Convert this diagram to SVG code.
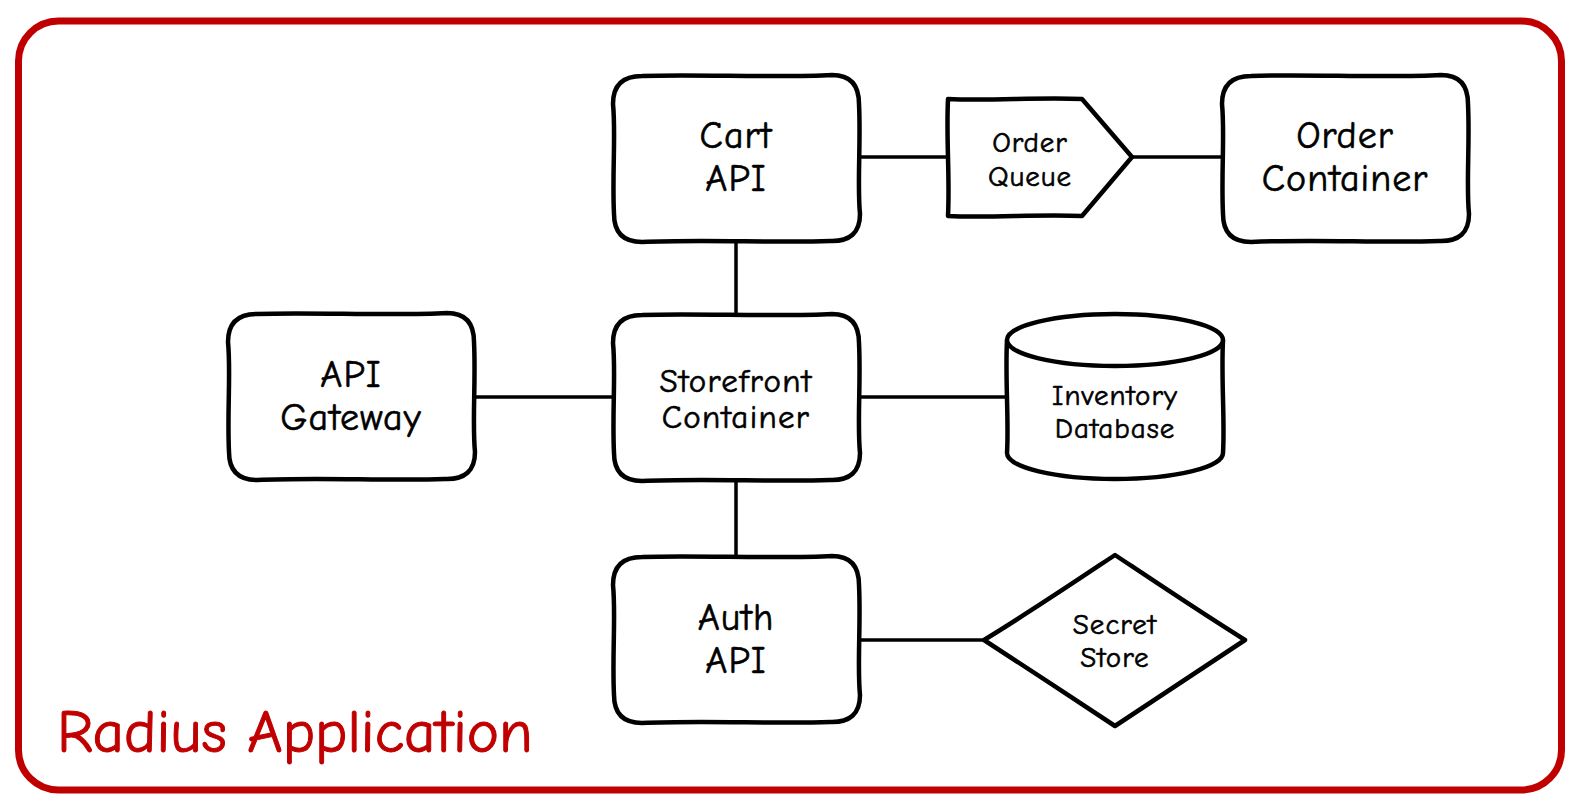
<svg xmlns="http://www.w3.org/2000/svg" width="1582" height="808" viewBox="0 0 1582 808">
<style>
.shape{fill:#fff;stroke:#000;stroke-width:4.5;stroke-linejoin:round}
.conn{stroke:#000;stroke-width:3.5;fill:none}
text{font-family:"Comic Sans MS","Comic Neue","Liberation Sans",sans-serif;fill:#000;stroke:#000;stroke-width:0.6;text-anchor:middle}
.big{font-size:38px;letter-spacing:1px}
.mid{font-size:33px;letter-spacing:1.3px}
.sm{font-size:29px;letter-spacing:1px}
.title{font-size:61px;fill:#c00000;stroke:#c00000;stroke-width:1;text-anchor:start}
</style>
<defs>
<path id="box" d="M30,2 C80,0 170,4 220,1 Q247,1 247,30 C249,70 245,110 248,140 Q248,168 218,167 C160,169 90,165 30,168 Q2,168 2,140 C0,100 4,60 1,30 Q1,2 30,2 Z"/>
</defs>
<rect x="18.5" y="21" width="1543" height="769" rx="40" fill="#fff" stroke="#c00000" stroke-width="7"/>
<g id="connectors">
<line class="conn" x1="861" y1="157" x2="948" y2="157"/>
<line class="conn" x1="1132" y1="157" x2="1221" y2="157"/>
<line class="conn" x1="736" y1="243" x2="736" y2="314"/>
<line class="conn" x1="475" y1="397" x2="612" y2="397"/>
<line class="conn" x1="861" y1="397" x2="1007" y2="397"/>
<line class="conn" x1="736" y1="482" x2="736" y2="555"/>
<line class="conn" x1="861" y1="640" x2="984" y2="640"/>
</g>
<g id="cart-api">
<use href="#box" class="shape" x="612" y="74"/>
<text class="big" x="736" y="148">Cart</text>
<text class="big" x="736" y="191">API</text>
</g>
<g id="order-queue">
<path class="shape" d="M948,99 C990,101 1040,97 1082,99 L1132,157 L1082,216 C1040,214 990,218 948,216 C950,175 946,140 948,99 Z"/>
<text class="sm" x="1030" y="152">Order</text>
<text class="sm" x="1030" y="186">Queue</text>
</g>
<g id="order-container">
<use href="#box" class="shape" x="1221" y="74"/>
<text class="big" x="1345" y="148">Order</text>
<text class="big" x="1345" y="191">Container</text>
</g>
<g id="api-gateway">
<use href="#box" class="shape" x="227" y="312"/>
<text class="big" x="351" y="387">API</text>
<text class="big" x="351" y="430">Gateway</text>
</g>
<g id="storefront-container">
<use href="#box" class="shape" x="612" y="313"/>
<text class="mid" x="736" y="392">Storefront</text>
<text class="mid" x="736" y="428">Container</text>
</g>
<g id="inventory-database">
<path class="shape" d="M1007,340 A108,26 0 0 1 1223,340 C1221,380 1225,420 1223,453 A108,26 0 0 1 1007,453 C1009,420 1005,380 1007,340 Z"/>
<path class="shape" fill="none" d="M1007,340 A108,26 0 0 0 1223,340"/>
<text class="sm" x="1115" y="405">Inventory</text>
<text class="sm" x="1115" y="438">Database</text>
</g>
<g id="auth-api">
<use href="#box" class="shape" x="612" y="555"/>
<text class="big" x="736" y="630">Auth</text>
<text class="big" x="736" y="673">API</text>
</g>
<g id="secret-store">
<path class="shape" d="M1115,555 C1160,585 1200,612 1245,640 C1200,670 1160,696 1115,726 C1070,696 1030,670 984,640 C1030,612 1070,585 1115,555 Z"/>
<text class="sm" x="1115" y="634">Secret</text>
<text class="sm" x="1115" y="667">Store</text>
</g>
<text class="title" x="57" y="752">Radius Application</text>
</svg>
